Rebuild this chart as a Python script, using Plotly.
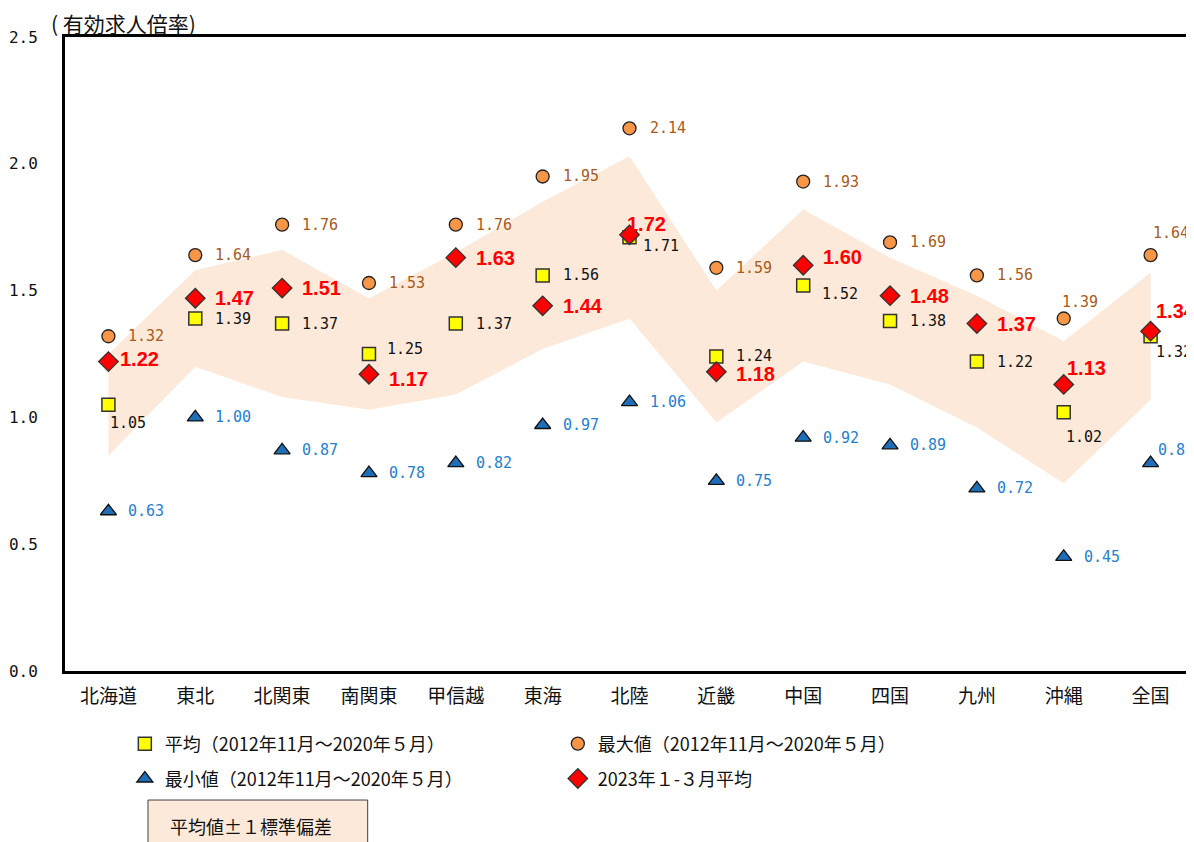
import plotly.graph_objects as go

categories = ["北海道", "東北", "北関東", "南関東", "甲信越", "東海", "北陸",
              "近畿", "中国", "四国", "九州", "沖縄", "全国"]
mean_vals = [1.05, 1.39, 1.37, 1.25, 1.37, 1.56, 1.71, 1.24, 1.52, 1.38, 1.22, 1.02, 1.32]
max_vals = [1.32, 1.64, 1.76, 1.53, 1.76, 1.95, 2.14, 1.59, 1.93, 1.69, 1.56, 1.39, 1.64]
min_vals = [0.63, 1.00, 0.87, 0.78, 0.82, 0.97, 1.06, 0.75, 0.92, 0.89, 0.72, 0.45, 0.82]
recent_vals = [1.22, 1.47, 1.51, 1.17, 1.63, 1.44, 1.72, 1.18, 1.60, 1.48, 1.37, 1.13, 1.34]
sd_vals = [0.20, 0.19, 0.29, 0.22, 0.28, 0.29, 0.32, 0.26, 0.30, 0.25, 0.26, 0.28, 0.25]
y_ticks = [0.0, 0.5, 1.0, 1.5, 2.0, 2.5]

band_upper = [m + s for m, s in zip(mean_vals, sd_vals)]
band_lower = [m - s for m, s in zip(mean_vals, sd_vals)]

JP = "Noto Sans CJK JP"
MONO = "DejaVu Sans Mono"

fig = go.Figure()

# band (mean ± 1 SD)
fig.add_trace(go.Scatter(x=categories, y=band_lower, mode="lines",
                         line=dict(width=0, color="rgba(0,0,0,0)"),
                         showlegend=False, hoverinfo="skip"))
fig.add_trace(go.Scatter(x=categories, y=band_upper, mode="lines",
                         line=dict(width=0, color="rgba(0,0,0,0)"),
                         fill="tonexty", fillcolor="#FDE9D9",
                         showlegend=False, hoverinfo="skip"))

fig.add_trace(go.Scatter(x=categories, y=mean_vals, mode="markers",
                         name="平均（2012年11月～2020年５月）",
                         marker=dict(symbol="square", size=13, color="#FFFF00",
                                     line=dict(color="#333333", width=1.5)),
                         legend="legend"))
fig.add_trace(go.Scatter(x=categories, y=max_vals, mode="markers",
                         name="最大値（2012年11月～2020年５月）",
                         marker=dict(symbol="circle", size=13, color="#F79646",
                                     line=dict(color="#222222", width=1.3)),
                         legend="legend"))
fig.add_trace(go.Scatter(x=categories, y=min_vals, mode="markers",
                         name="最小値（2012年11月～2020年５月）",
                         marker=dict(symbol="triangle-up", size=14, color="#1F6FB8",
                                     line=dict(color="#111111", width=1.3)),
                         legend="legend2"))
fig.add_trace(go.Scatter(x=categories, y=recent_vals, mode="markers",
                         name="2023年１-３月平均",
                         marker=dict(symbol="diamond", size=15, color="#FF0000",
                                     line=dict(color="#333333", width=1.3)),
                         legend="legend2"))

# label offsets (xshift, yshift) by index; default (18, 0)
mean_off = {0: (0, -18), 3: (16, 5), 6: (11, -9), 7: (18, 1), 8: (17, -8),
            11: (0, -25), 12: (3, -16)}
max_off = {11: (-4, 17), 12: (0, 22)}
min_off = {12: (5, 13)}
recent_off = {0: (10, 3), 3: (18, -5), 6: (-5, 11), 7: (18, -2), 8: (18, 8),
              11: (1, 16), 12: (3, 20)}

def add_labels(vals, offs, color, font, size, bold=False):
    for i, (c, v) in enumerate(zip(categories, vals)):
        dx, dy = offs.get(i, (18, 0))
        txt = f"{v:.2f}"
        if bold:
            txt = f"<b>{txt}</b>"
        fig.add_annotation(x=c, y=v, xref="x", yref="y", text=txt, showarrow=False,
                           xanchor="left", yanchor="middle", xshift=dx, yshift=dy,
                           font=dict(family=font, size=size, color=color))

add_labels(mean_vals, mean_off, "#111111", MONO, 15)
add_labels(max_vals, max_off, "#A85A1A", MONO, 15)
add_labels(min_vals, min_off, "#2381D0", MONO, 15)
add_labels(recent_vals, recent_off, "#FF0000", "Liberation Sans", 20, bold=True)

# y-axis title
fig.add_annotation(xref="paper", yref="paper", x=-0.0142, y=1.022, xanchor="left",
                   yanchor="middle", text="( 有効求人倍率)", showarrow=False,
                   font=dict(family=JP, size=21, color="#111111"))

# band legend box
fig.add_shape(type="rect", xref="paper", yref="paper", x0=0.0735, x1=0.2681,
              y0=-0.2035, y1=-0.30, fillcolor="#FDE9D9",
              line=dict(color="#404040", width=1))
fig.add_annotation(xref="paper", yref="paper", x=0.1646, y=-0.2445, xanchor="center",
                   yanchor="middle", text="平均値±１標準偏差", showarrow=False,
                   font=dict(family=JP, size=18, color="#111111"))

fig.update_layout(
    width=1186, height=834,
    margin=dict(l=57, r=0, t=29, b=171),
    plot_bgcolor="white", paper_bgcolor="white",
    font=dict(family=JP, size=18, color="#111111"),
    xaxis=dict(range=[-0.5, 12.5], showline=True, linecolor="#000000", linewidth=3,
               mirror=True, showgrid=False, ticks="", ticklabelstandoff=6,
               automargin=False,
               tickfont=dict(family=JP, size=19, color="#111111")),
    yaxis=dict(range=[0, 2.5], tickvals=y_ticks, tickformat=".1f", showline=True,
               linecolor="#000000", linewidth=3, showgrid=False, zeroline=False,
               ticks="", ticklabelstandoff=21, automargin=False,
               tickfont=dict(family=MONO, size=16, color="#111111")),
    legend=dict(orientation="h", x=0.053, y=-0.1151, xanchor="left", yanchor="middle",
                entrywidth=388, entrywidthmode="pixels", bgcolor="rgba(0,0,0,0)",
                traceorder="normal",
                font=dict(family=JP, size=18, color="#111111"), tracegroupgap=0),
    legend2=dict(orientation="h", x=0.053, y=-0.170, xanchor="left", yanchor="middle",
                 entrywidth=388, entrywidthmode="pixels", bgcolor="rgba(0,0,0,0)",
                 traceorder="normal",
                 font=dict(family=JP, size=18, color="#111111"), tracegroupgap=0),
    showlegend=True,
)

fig.write_html("out.html")
